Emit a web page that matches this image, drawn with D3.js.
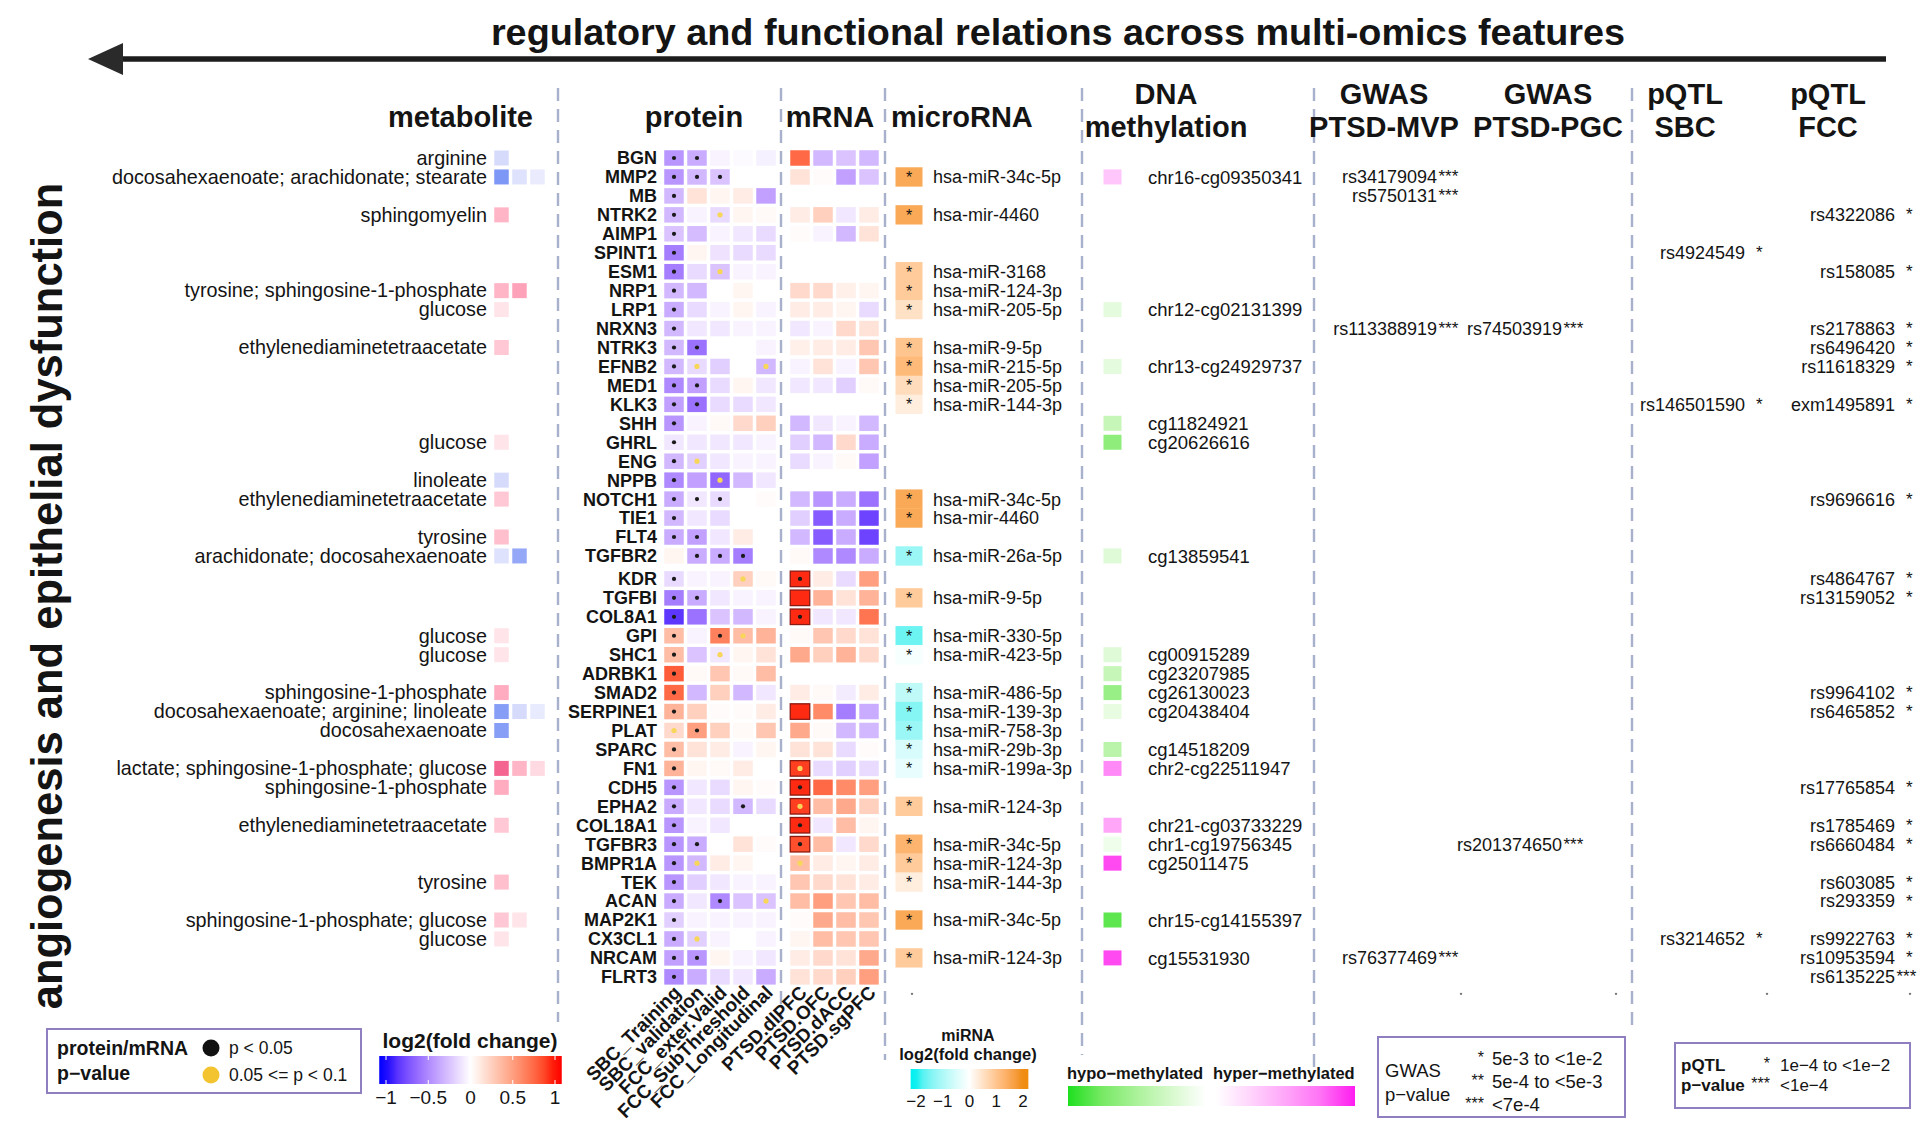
<!DOCTYPE html>
<html><head><meta charset="utf-8"><title>multi-omics relations</title>
<script src="https://cdn.jsdelivr.net/npm/d3@7/dist/d3.min.js"></script>
<style>
html,body{margin:0;padding:0;background:#fff;}
svg{display:block;}
text{font-family:"Liberation Sans",Arial,Helvetica,sans-serif;fill:#141414;}
</style></head><body>
<svg id="chart" width="1920" height="1124"></svg>
<script>
// ---------------- DATA ----------------
const genes = ["BGN","MMP2","MB","NTRK2","AIMP1","SPINT1","ESM1","NRP1","LRP1","NRXN3","NTRK3","EFNB2","MED1","KLK3","SHH","GHRL","ENG","NPPB","NOTCH1","TIE1","FLT4","TGFBR2",
  "KDR","TGFBI","COL8A1","GPI","SHC1","ADRBK1","SMAD2","SERPINE1","PLAT","SPARC","FN1","CDH5","EPHA2","COL18A1","TGFBR3","BMPR1A","TEK","ACAN","MAP2K1","CX3CL1","NRCAM","FLRT3"];
const sliceSize = [22, 22];

const proteinCols = ["SBC_Training","SBC_validation","FCC_exter.Valid","FCC_SubThreshold","FCC_Longitudinal"];
const mrnaCols = ["PTSD.dlPFC","PTSD.OFC","PTSD.dACC","PTSD.sgPFC"];

const proteinValues = [
 [-0.45,-0.35,-0.05,-0.02,-0.06],[-0.45,-0.3,-0.25,0,0],[-0.3,0.15,0.05,0.1,-0.4],[-0.3,-0.05,-0.15,0.05,0.03],
 [-0.25,-0.28,-0.05,-0.1,-0.15],[-0.55,0.05,-0.12,-0.15,-0.15],[-0.55,-0.15,-0.25,-0.05,-0.05],[-0.3,-0.3,0,0.05,0],
 [-0.35,-0.15,-0.05,0.05,-0.05],[-0.3,-0.1,-0.1,-0.05,-0.05],[-0.3,-0.6,0,0,-0.05],[-0.3,-0.15,-0.2,0,-0.3],
 [-0.5,-0.4,-0.15,0.05,-0.1],[-0.4,-0.6,-0.15,-0.15,-0.1],[-0.45,-0.05,0.03,0.2,0.25],[-0.1,-0.1,-0.1,-0.1,-0.05],
 [-0.3,-0.2,-0.1,-0.05,-0.05],[-0.5,-0.4,-0.65,-0.3,-0.1],[-0.35,-0.1,-0.15,0,0.02],[-0.3,-0.1,-0.15,0,0],
 [-0.35,-0.4,-0.1,0.1,0],[0.05,-0.35,-0.35,-0.55,0],
 [-0.15,-0.05,-0.05,0.25,0.03],[-0.55,-0.35,-0.1,-0.05,-0.05],[-0.85,-0.6,-0.25,-0.3,-0.05],[0.35,-0.05,0.65,0.35,0.4],
 [0.35,-0.25,-0.1,0.05,0.15],[0.8,0.03,0.3,0.03,0.35],[0.75,-0.3,0.25,-0.3,-0.1],[0.4,0.25,0.02,0.02,0.1],
 [0.2,0.5,0.25,0.03,0.3],[0.35,0.15,0.1,-0.05,0.05],[0.4,0.05,0.03,0.1,0],[-0.45,-0.1,-0.15,0.05,0.02],
 [-0.35,-0.1,-0.15,-0.3,-0.15],[-0.45,-0.05,-0.1,0,0],[-0.45,-0.35,0,0.15,0.02],[-0.45,-0.3,0.1,0.05,0],
 [-0.45,-0.2,-0.1,-0.05,-0.05],[-0.35,-0.1,-0.5,-0.25,-0.25],[-0.2,-0.05,-0.05,-0.05,-0.05],[-0.35,-0.2,-0.05,0,-0.05],
 [-0.4,-0.45,0.05,-0.05,-0.1],[-0.5,-0.35,-0.15,-0.1,-0.35]];
// b = p<0.05, y = 0.05<=p<0.1, - = none
const proteinSig = ["bb---","bbb--","b----","b-y--","b----","b----","b-y--","b----","b----","b----","bb---","by--y",
 "bb---","bb---","b----","b----","by---","b-y--","bbb--","b----","bb---","-bbb-",
 "b--y-","bb---","b----","b-by-","b-y--","b----","b----","b----","yb---","b----","b----","b----",
 "b--b-","b----","bb---","by---","b----","b-b-y","b----","by---","bb---","b----"];

const mrnaValues = [
 [0.75,-0.3,-0.25,-0.3],[0.15,0.02,-0.4,-0.25],null,[0.1,0.25,-0.1,0.1],[0.02,-0.05,-0.3,0.15],null,null,
 [0.2,0.2,0.08,0.05],[0.1,0.1,0.05,-0.15],[-0.1,-0.05,0.2,0.15],[0.08,0.1,0.1,0.3],[-0.05,0.15,-0.05,0.3],
 [-0.1,-0.1,-0.2,0.03],null,[-0.3,-0.1,-0.05,-0.3],[-0.2,-0.3,0.2,-0.35],[-0.15,-0.05,0.03,-0.4],null,
 [-0.3,-0.45,-0.35,-0.6],[-0.2,-0.7,-0.35,-0.8],[-0.3,-0.7,-0.35,-0.8],[0.03,-0.5,-0.5,-0.35],
 [0.95,0.1,-0.15,0.5],[0.95,0.4,0.15,0.4],[0.95,-0.1,-0.1,0.7],[0.03,0.3,0.2,0.15],[0.45,0.25,0.4,0.2],null,
 [0.1,0.03,-0.08,0.1],[0.95,0.6,-0.55,-0.35],[0.45,0.03,-0.3,-0.3],[0.15,0.15,-0.15,0.02],[0.9,-0.15,-0.2,-0.15],
 [0.95,0.75,0.6,0.5],[0.9,0.35,0.45,0.25],[0.95,-0.1,0.35,0.05],[0.85,0.35,-0.1,0.2],[0.35,0.1,0.05,0.1],
 [0.3,0.2,0.15,0.1],[0.35,0.5,0.3,0.35],[0.02,0.45,0.35,0.3],[0.05,0.35,0.3,0.3],[0.1,0.2,0.15,0.45],[0.15,0.2,0.25,0.5]];
const mrnaSig = {KDR:"b---", COL8A1:"b---", FN1:"y---", CDH5:"b---", EPHA2:"y---", COL18A1:"b---", TGFBR3:"b---", BMPR1A:"y---"};

const metaboliteGenes = ["BGN","MMP2","NTRK2","NRP1","LRP1","NTRK3","GHRL","NPPB","NOTCH1","FLT4","TGFBR2","GPI","SHC1","SMAD2","SERPINE1","PLAT","FN1","CDH5","COL18A1","TEK","MAP2K1","CX3CL1"];
const metaboliteLabels = ["arginine","docosahexaenoate; arachidonate; stearate","sphingomyelin","tyrosine; sphingosine-1-phosphate","glucose",
 "ethylenediaminetetraacetate","glucose","linoleate","ethylenediaminetetraacetate","tyrosine","arachidonate; docosahexaenoate","glucose","glucose",
 "sphingosine-1-phosphate","docosahexaenoate; arginine; linoleate","docosahexaenoate","lactate; sphingosine-1-phosphate; glucose",
 "sphingosine-1-phosphate","ethylenediaminetetraacetate","tyrosine","sphingosine-1-phosphate; glucose","glucose"];
const metaboliteValues = [[-0.25],[-0.75,-0.2,-0.13],[0.4],[0.4,0.5],[0.15],[0.3],[0.15],[-0.25],[0.3],[0.35],[-0.2,-0.62],[0.15],[0.15],
 [0.45],[-0.7,-0.25,-0.14],[-0.7],[0.8,0.4,0.2],[0.45],[0.3],[0.35],[0.3,0.15],[0.15]];

const mirnaGenes = ["MMP2","NTRK2","ESM1","NRP1","LRP1","NTRK3","EFNB2","MED1","KLK3","NOTCH1","TIE1","TGFBR2","TGFBI","GPI","SHC1",
 "SMAD2","SERPINE1","PLAT","SPARC","FN1","EPHA2","TGFBR3","BMPR1A","TEK","MAP2K1","NRCAM"];
const mirnaLabels = ["hsa-miR-34c-5p","hsa-mir-4460","hsa-miR-3168","hsa-miR-124-3p","hsa-miR-205-5p","hsa-miR-9-5p","hsa-miR-215-5p",
 "hsa-miR-205-5p","hsa-miR-144-3p","hsa-miR-34c-5p","hsa-mir-4460","hsa-miR-26a-5p","hsa-miR-9-5p","hsa-miR-330-5p","hsa-miR-423-5p",
 "hsa-miR-486-5p","hsa-miR-139-3p","hsa-miR-758-3p","hsa-miR-29b-3p","hsa-miR-199a-3p","hsa-miR-124-3p","hsa-miR-34c-5p","hsa-miR-124-3p",
 "hsa-miR-144-3p","hsa-miR-34c-5p","hsa-miR-124-3p"];
const mirnaValues = [1.5,1.5,0.9,0.9,0.5,1.0,1.2,0.6,0.3,1.5,1.5,-1.2,0.9,-1.6,-0.12,-0.8,-1.4,-1.2,-0.5,-0.3,0.9,1.3,0.9,0.3,1.5,0.9];

const methGenes = ["MMP2","LRP1","EFNB2","SHH","GHRL","TGFBR2","SHC1","ADRBK1","SMAD2","SERPINE1","SPARC","FN1","COL18A1","TGFBR3","BMPR1A","MAP2K1","NRCAM"];
const methLabels = ["chr16-cg09350341","chr12-cg02131399","chr13-cg24929737","cg11824921","cg20626616","cg13859541","cg00915289","cg23207985",
 "cg26130023","cg20438404","cg14518209","chr2-cg22511947","chr21-cg03733229","chr1-cg19756345","cg25011475","chr15-cg14155397","cg15531930"];
const methValues = [0.33,-0.17,-0.17,-0.35,-0.65,-0.2,-0.2,-0.35,-0.6,-0.15,-0.42,0.65,0.5,-0.1,0.9,-0.85,0.9];

const gwasMvpGenes = ["MMP2","MB","NRXN3","NRCAM"];
const gwasMvpSnps = ["rs34179094","rs5750131","rs113388919","rs76377469"];
const gwasMvpStars = ["***","***","***","***"];
const gwasPgcGenes = ["NRXN3","TGFBR3"];
const gwasPgcSnps = ["rs74503919","rs201374650"];
const gwasPgcStars = ["***","***"];
const pqtlSbcGenes = ["SPINT1","KLK3","CX3CL1"];
const pqtlSbcSnps = ["rs4924549","rs146501590","rs3214652"];
const pqtlSbcStars = ["*","*","*"];
const pqtlFccGenes = ["NTRK2","ESM1","NRXN3","NTRK3","EFNB2","KLK3","NOTCH1","KDR","TGFBI","SMAD2","SERPINE1","CDH5","COL18A1","TGFBR3","TEK","ACAN","CX3CL1","NRCAM","FLRT3"];
const pqtlFccSnps = ["rs4322086","rs158085","rs2178863","rs6496420","rs11618329","exm1495891","rs9696616","rs4864767","rs13159052","rs9964102",
 "rs6465852","rs17765854","rs1785469","rs6660484","rs603085","rs293359","rs9922763","rs10953594","rs6135225"];
const pqtlFccStars = ["*","*","*","*","*","*","*","*","*","*","*","*","*","*","*","*","*","*","***"];

const pmTicks = [-1,-0.5,0,0.5,1];
const mirTicks = [-2,-1,0,1,2];

// ---------------- SCALES ----------------
const svg = d3.select("#chart");
const pmColor = d3.scaleLinear().domain([-1,0,1]).range(["#0000ff","#ffffff","#ff0000"]).interpolate(d3.interpolateLab).clamp(true);
const metColor = d3.scaleLinear().domain([-1,0,1]).range(["#3a78f0","#ffffff","#ec2a78"]).interpolate(d3.interpolateLab).clamp(true);
const mirColor = d3.scaleLinear().domain([-2,0,2]).range(["#00f0f0","#ffffff","#f08c10"]).interpolate(d3.interpolateLab).clamp(true);
const methColor = d3.scaleLinear().domain([-1,0,1]).range(["#1ee01e","#ffffff","#ff1cf0"]).interpolate(d3.interpolateLab).clamp(true);

const rowStep = 18.95, rowTop = 158 - rowStep/2, sliceGap = 4;
const slice1 = genes.slice(0, sliceSize[0]), slice2 = genes.slice(sliceSize[0]);
const y1 = d3.scaleBand().domain(slice1).range([rowTop, rowTop + slice1.length*rowStep]);
const y2 = d3.scaleBand().domain(slice2).range([rowTop + slice1.length*rowStep + sliceGap, rowTop + genes.length*rowStep + sliceGap]);
const yBand = g => slice1.includes(g) ? y1(g) : y2(g);
const yMid = g => yBand(g) + rowStep/2;

const xProt = d3.scaleBand().domain(proteinCols).range([662.5, 777.5]);
const xMrna = d3.scaleBand().domain(mrnaCols).range([788.5, 880.5]);
const xMet = d3.scaleBand().domain([0,1,2]).range([492.5, 546.5]);
const xMir = d3.scaleBand().domain(["miRNA"]).range([895.5, 922.5]);
const xMeth = d3.scaleBand().domain(["meth"]).range([1103.5, 1121.5]);

const cellW = 19.5, cellH = 15.5;

// ---------------- TITLE + ARROW ----------------
svg.append("text").attr("x", 1058).attr("y", 45).attr("text-anchor","middle")
  .attr("font-size", 37.8).attr("font-weight","bold")
  .text("regulatory and functional relations across multi-omics features");
svg.append("line").attr("x1", 112).attr("x2", 1886).attr("y1", 59).attr("y2", 59)
  .attr("stroke","#1c1c1c").attr("stroke-width",5.5);
svg.append("path").attr("d", d3.line()([[88,59],[123,43],[123,75]]) + "Z").attr("fill","#2a2a2a");

// Y title
svg.append("text").attr("transform","translate(62,596) rotate(-90)").attr("text-anchor","middle")
  .attr("font-size", 43.5).attr("font-weight","bold").text("angiogenesis and epithelial dysfunction");

// ---------------- SEPARATORS ----------------
const sepX = [558, 781, 885, 1082, 1314, 1632];
const sepY2 = [1022, 1022, 1060, 1055, 1075, 1025];
svg.append("g").selectAll("line").data(sepX).join("line")
  .attr("x1", d=>d).attr("x2", d=>d).attr("y1", 88).attr("y2", (d,i)=>sepY2[i])
  .attr("stroke","#a7b1cc").attr("stroke-width",2.4).attr("stroke-dasharray","13,8");

// ---------------- HEADERS ----------------
const headers = [
  {t:["metabolite"], x:533, a:"end"},
  {t:["protein"], x:694, a:"middle"},
  {t:["mRNA"], x:830, a:"middle"},
  {t:["microRNA"], x:891, a:"start"},
  {t:["DNA","methylation"], x:1166, a:"middle"},
  {t:["GWAS","PTSD-MVP"], x:1384, a:"middle"},
  {t:["GWAS","PTSD-PGC"], x:1548, a:"middle"},
  {t:["pQTL","SBC"], x:1685, a:"middle"},
  {t:["pQTL","FCC"], x:1828, a:"middle"}];
headers.forEach(h=>{
  const ys = h.t.length === 1 ? [127] : [104, 137];
  h.t.forEach((s,k)=> svg.append("text").attr("x", h.x).attr("y", ys[k]).attr("text-anchor", h.a)
    .attr("font-size", 29).attr("font-weight","bold").text(s));
});

// ---------------- METABOLITES ----------------
const gMet = svg.append("g");
metaboliteGenes.forEach((g,i)=>{
  gMet.append("text").attr("x", 487).attr("y", yMid(g) + 6.8).attr("text-anchor","end")
    .attr("font-size", 19.8).text(metaboliteLabels[i]);
  gMet.selectAll(null).data(metaboliteValues[i]).join("rect")
    .attr("x", (v,j)=> xMet(j) + 1.75).attr("y", yMid(g) - 7.5)
    .attr("width", xMet.bandwidth() - 3.5).attr("height", 15)
    .attr("fill", v=> metColor(v));
});

// ---------------- PROTEIN + mRNA ----------------
const gHeat = svg.append("g");
const protCells = [], mrnaCells = [];
genes.forEach((g,i)=>{
  proteinValues[i].forEach((v,j)=> protCells.push({g, col:proteinCols[j], v, s:proteinSig[i][j]}));
  if (mrnaValues[i]) mrnaValues[i].forEach((v,j)=> mrnaCells.push({g, col:mrnaCols[j], v, s:(mrnaSig[g]||"----")[j]}));
});
gHeat.selectAll("rect.p").data(protCells).join("rect").attr("class","p")
  .attr("x", d=> xProt(d.col) + (xProt.bandwidth()-cellW)/2).attr("y", d=> yMid(d.g) - cellH/2)
  .attr("width", cellW).attr("height", cellH).attr("fill", d=> pmColor(d.v));
gHeat.selectAll("rect.m").data(mrnaCells).join("rect").attr("class","m")
  .attr("x", d=> xMrna(d.col) + (xMrna.bandwidth()-cellW)/2).attr("y", d=> yMid(d.g) - cellH/2)
  .attr("width", cellW).attr("height", cellH).attr("fill", d=> pmColor(d.v))
  .attr("stroke", d=> d.v >= 0.85 ? "#8a1a12" : "none").attr("stroke-width", 1.3);
const dotCells = protCells.map(d=>({...d, x: xProt(d.col) + xProt.bandwidth()/2}))
  .concat(mrnaCells.map(d=>({...d, x: xMrna(d.col) + xMrna.bandwidth()/2}))).filter(d=> d.s !== "-");
gHeat.selectAll("circle").data(dotCells).join("circle")
  .attr("cx", d=> d.x).attr("cy", d=> yMid(d.g))
  .attr("r", d=> d.s === "b" ? 2.1 : 2.6).attr("fill", d=> d.s === "b" ? "#1a1a1a" : "#f7d65a");

gHeat.selectAll("text.gene").data(genes).join("text").attr("class","gene")
  .attr("x", 657).attr("y", g=> yMid(g) + 6.4).attr("text-anchor","end")
  .attr("font-size", 18).attr("font-weight","bold").text(g=>g);

const colLabels = proteinCols.map(c=>({c, x: xProt(c)+xProt.bandwidth()/2}))
  .concat(mrnaCols.map(c=>({c, x: xMrna(c)+xMrna.bandwidth()/2})));
const labY = yMid(genes[genes.length-1]) + 17;
gHeat.selectAll("text.col").data(colLabels).join("text").attr("class","col")
  .attr("transform", d=> `translate(${d.x + 8},${labY}) rotate(-45)`).attr("text-anchor","end")
  .attr("font-size", 19).attr("font-weight","bold").text(d=> d.c);

// ---------------- microRNA ----------------
const gMir = svg.append("g");
gMir.selectAll("rect").data(mirnaGenes).join("rect")
  .attr("x", xMir("miRNA")).attr("y", g=> yBand(g) - 0.2).attr("width", xMir.bandwidth()).attr("height", rowStep + 0.4)
  .attr("fill", (g,i)=> mirColor(mirnaValues[i]));
gMir.selectAll("text.star").data(mirnaGenes).join("text").attr("class","star")
  .attr("x", xMir("miRNA") + xMir.bandwidth()/2).attr("y", g=> yMid(g) + 6).attr("text-anchor","middle")
  .attr("font-size", 16).text("*");
gMir.selectAll("text.lab").data(mirnaGenes).join("text").attr("class","lab")
  .attr("x", 933).attr("y", g=> yMid(g) + 6.4).attr("font-size", 18).text((g,i)=> mirnaLabels[i]);

// ---------------- DNA methylation ----------------
const gMeth = svg.append("g");
gMeth.selectAll("rect").data(methGenes).join("rect")
  .attr("x", xMeth("meth")).attr("y", g=> yMid(g) - 7.5).attr("width", xMeth.bandwidth()).attr("height", 15)
  .attr("fill", (g,i)=> methColor(methValues[i]));
gMeth.selectAll("text").data(methGenes).join("text")
  .attr("x", 1148).attr("y", g=> yMid(g) + 6.6).attr("font-size", 18.5).text((g,i)=> methLabels[i]);

// ---------------- GWAS / pQTL ----------------
function snpColumn(gs, snps, stars, xEnd, starGap){
  const gg = svg.append("g");
  gg.selectAll("text.snp").data(gs).join("text").attr("class","snp")
    .attr("x", xEnd).attr("y", g=> yMid(g) + 6.4).attr("text-anchor","end").attr("font-size", 18).text((g,i)=> snps[i]);
  gg.selectAll("text.st").data(gs).join("text").attr("class","st")
    .attr("x", (g,i)=> xEnd + (stars[i].length === 1 ? starGap : 1.5)).attr("y", g=> yMid(g) + 5.5)
    .attr("font-size", 17).text((g,i)=> stars[i]);
}
snpColumn(gwasMvpGenes, gwasMvpSnps, gwasMvpStars, 1437, 10);
snpColumn(gwasPgcGenes, gwasPgcSnps, gwasPgcStars, 1562, 10);
snpColumn(pqtlSbcGenes, pqtlSbcSnps, pqtlSbcStars, 1745, 11);
snpColumn(pqtlFccGenes, pqtlFccSnps, pqtlFccStars, 1895, 11);

// placeholder dots under the last row
const dotY = yMid(genes[genes.length-1]) + 17;
svg.append("g").selectAll("circle").data([912, 1461, 1616, 1767, 1910]).join("circle")
  .attr("cx", d=>d).attr("cy", dotY).attr("r", 1.2).attr("fill","#777");

// ---------------- LEGENDS ----------------
const defs = svg.append("defs");
function gradient(id, scale, d0, d1){
  const gr = defs.append("linearGradient").attr("id", id).attr("x1","0%").attr("x2","100%");
  d3.range(0, 1.0001, 0.05).forEach(t=> gr.append("stop").attr("offset", (t*100)+"%").attr("stop-color", scale(d0 + t*(d1-d0))));
}
const boxStroke = "#8f7fc0";

// p-value legend
svg.append("rect").attr("x",47).attr("y",1029).attr("width",314).attr("height",64).attr("fill","none").attr("stroke",boxStroke).attr("stroke-width",2);
svg.append("text").attr("x",57).attr("y",1055).attr("font-size",19.5).attr("font-weight","bold").text("protein/mRNA");
svg.append("text").attr("x",57).attr("y",1080).attr("font-size",19.5).attr("font-weight","bold").text("p\u2212value");
svg.append("circle").attr("cx",211).attr("cy",1048).attr("r",8.5).attr("fill","#111");
svg.append("circle").attr("cx",211).attr("cy",1075).attr("r",8.5).attr("fill","#f4c430");
svg.append("text").attr("x",229).attr("y",1054).attr("font-size",17.5).text("p < 0.05");
svg.append("text").attr("x",229).attr("y",1081).attr("font-size",17.5).text("0.05 <= p < 0.1");

// log2FC legend
const pmLeg = d3.scaleLinear().domain([-1,1]).range([386,555]);
gradient("gPM", pmColor, -1.08, 1.08);
svg.append("text").attr("x",470).attr("y",1048).attr("text-anchor","middle").attr("font-size",21).attr("font-weight","bold").text("log2(fold change)");
svg.append("rect").attr("x",pmLeg(-1.08)).attr("y",1056).attr("width",pmLeg(1.08)-pmLeg(-1.08)).attr("height",28).attr("fill","url(#gPM)");
svg.append("g").selectAll("line").data(pmTicks.flatMap(t=>[[t,1056],[t,1080]])).join("line")
  .attr("x1",d=>pmLeg(d[0])).attr("x2",d=>pmLeg(d[0])).attr("y1",d=>d[1]).attr("y2",d=>d[1]+4).attr("stroke","#fff").attr("stroke-width",1);
svg.append("g").selectAll("text").data(pmTicks).join("text").attr("x",d=>pmLeg(d)).attr("y",1104).attr("text-anchor","middle")
  .attr("font-size",19).text(d=> d3.format("")(d).replace("-","\u2212"));

// miRNA legend
const mirLeg = d3.scaleLinear().domain([-2,2]).range([916,1023]);
gradient("gMIR", mirColor, -2.2, 2.2);
svg.append("text").attr("x",968).attr("y",1041).attr("text-anchor","middle").attr("font-size",16).attr("font-weight","bold").text("miRNA");
svg.append("text").attr("x",968).attr("y",1060).attr("text-anchor","middle").attr("font-size",16.5).attr("font-weight","bold").text("log2(fold change)");
svg.append("rect").attr("x",mirLeg(-2.2)).attr("y",1069).attr("width",mirLeg(2.2)-mirLeg(-2.2)).attr("height",20).attr("fill","url(#gMIR)");
svg.append("g").selectAll("text").data(mirTicks).join("text").attr("x",d=>mirLeg(d)).attr("y",1107).attr("text-anchor","middle")
  .attr("font-size",17).text(d=> String(d).replace("-","\u2212"));

// methylation legend
const gHypo = defs.append("linearGradient").attr("id","gHypo");
[0,0.25,0.5,0.75,1].forEach(t=> gHypo.append("stop").attr("offset",(t*100)+"%").attr("stop-color", methColor(-1+t)));
const gHyper = defs.append("linearGradient").attr("id","gHyper");
[0,0.25,0.5,0.75,1].forEach(t=> gHyper.append("stop").attr("offset",(t*100)+"%").attr("stop-color", methColor(t)));
svg.append("text").attr("x",1067).attr("y",1079).attr("font-size",16.5).attr("font-weight","bold").text("hypo\u2212methylated");
svg.append("text").attr("x",1213).attr("y",1079).attr("font-size",16.5).attr("font-weight","bold").text("hyper\u2212methylated");
svg.append("rect").attr("x",1068).attr("y",1086).attr("width",138).attr("height",20).attr("fill","url(#gHypo)");
svg.append("rect").attr("x",1216).attr("y",1086).attr("width",139).attr("height",20).attr("fill","url(#gHyper)");

// GWAS legend
svg.append("rect").attr("x",1378).attr("y",1037).attr("width",247).attr("height",80).attr("fill","none").attr("stroke",boxStroke).attr("stroke-width",2);
svg.append("text").attr("x",1385).attr("y",1077).attr("font-size",18.5).text("GWAS");
svg.append("text").attr("x",1385).attr("y",1101).attr("font-size",18.5).text("p\u2212value");
const gwasLegStars = ["*","**","***"], gwasLegText = ["5e-3 to <1e-2","5e-4 to <5e-3","<7e-4"];
gwasLegStars.forEach((s,i)=>{
  svg.append("text").attr("x",1484).attr("y",1063+i*23).attr("text-anchor","end").attr("font-size",16).text(s);
  svg.append("text").attr("x",1492).attr("y",1065+i*23).attr("font-size",18.5).text(gwasLegText[i]);
});

// pQTL legend
svg.append("rect").attr("x",1675).attr("y",1043).attr("width",235).attr("height",65).attr("fill","none").attr("stroke",boxStroke).attr("stroke-width",2);
svg.append("text").attr("x",1681).attr("y",1071).attr("font-size",17).attr("font-weight","bold").text("pQTL");
svg.append("text").attr("x",1681).attr("y",1091).attr("font-size",17).attr("font-weight","bold").text("p\u2212value");
const pqtlLegStars = ["*","***"], pqtlLegText = ["1e\u22124 to <1e\u22122","<1e\u22124"];
pqtlLegStars.forEach((s,i)=>{
  svg.append("text").attr("x",1770).attr("y",1069+i*20).attr("text-anchor","end").attr("font-size",16).text(s);
  svg.append("text").attr("x",1780).attr("y",1071+i*20).attr("font-size",17).text(pqtlLegText[i]);
});
</script>
</body></html>
